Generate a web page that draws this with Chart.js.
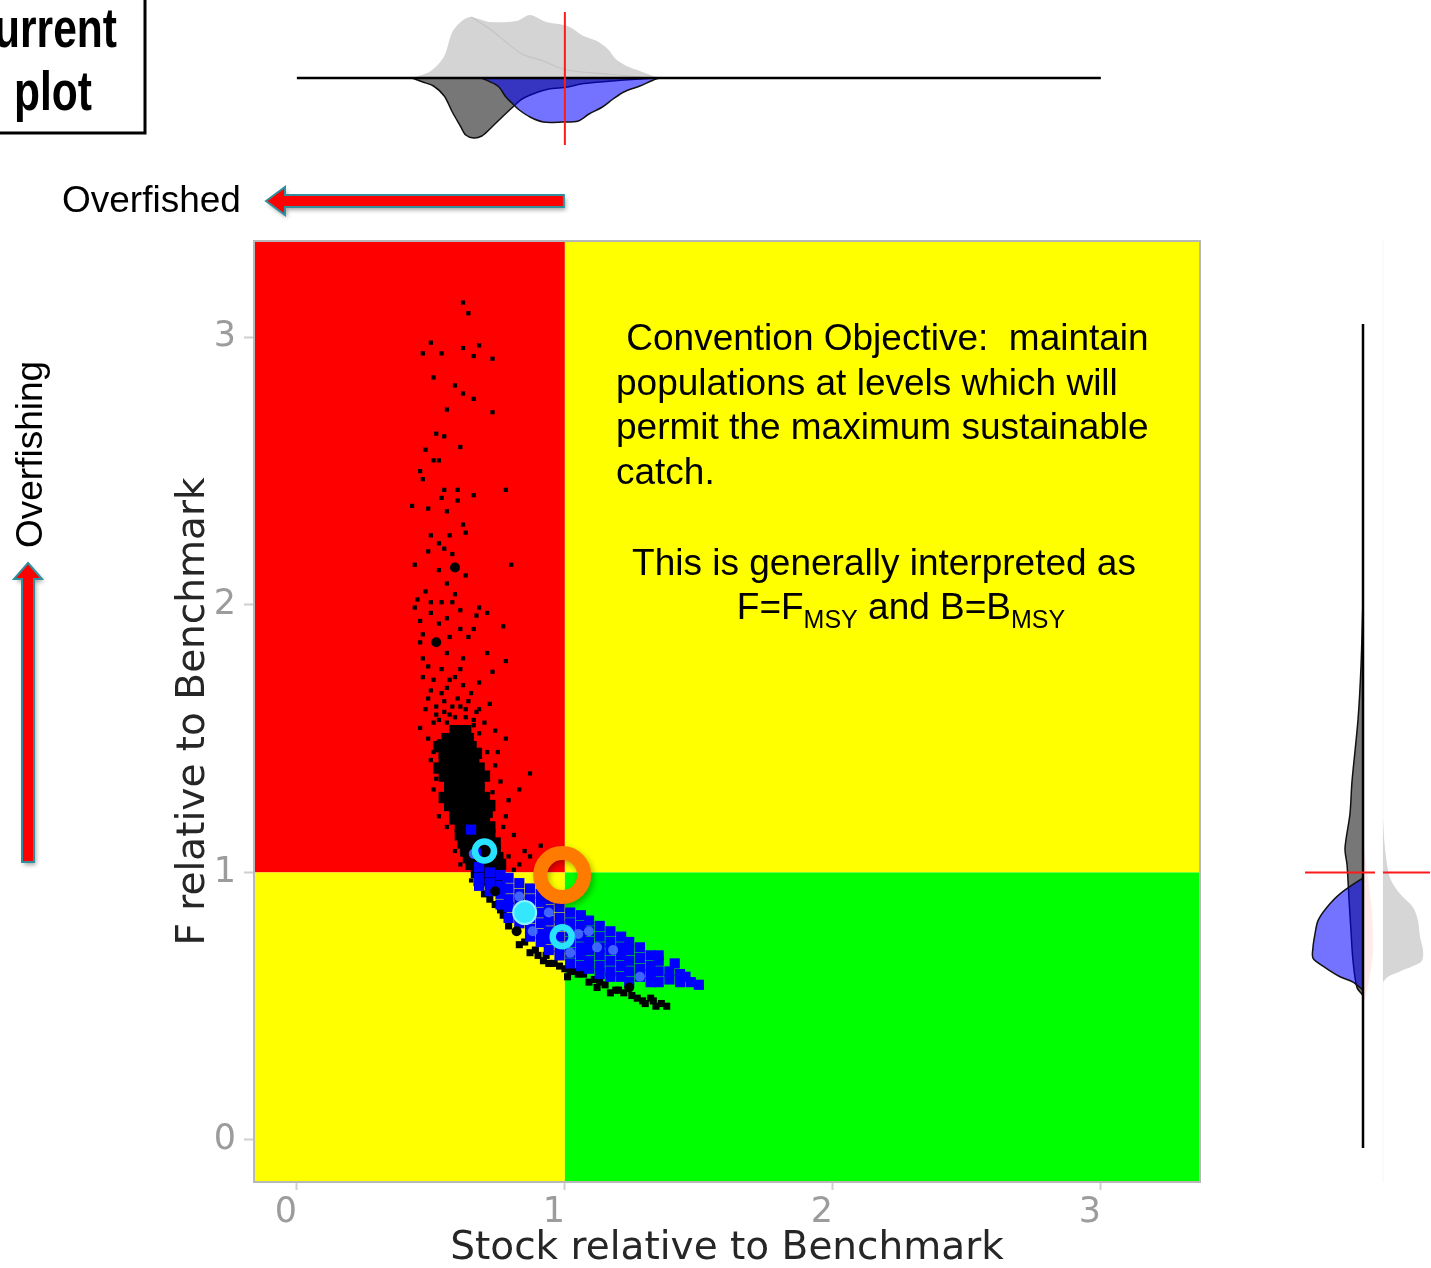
<!DOCTYPE html>
<html>
<head>
<meta charset="utf-8">
<script src="https://cdn.jsdelivr.net/npm/chart.js@4.4.1/dist/chart.umd.min.js"></script>
<style>
  body { margin: 0; background: #fff; }
  #wrap { position: relative; width: 1431px; height: 1268px; overflow: hidden; }
  canvas { position: absolute; }
</style>
</head>
<body>
<div id="wrap">
  <canvas id="kobe" width="1431" height="1268" style="left:0;top:0"></canvas>
  <canvas id="topDens" width="946" height="140" style="left:254px;top:8px"></canvas>
  <canvas id="rightDens" width="141" height="941" style="left:1290px;top:241px"></canvas>
</div>
<script>
// axis limits, ticks and reference point (stock and F relative to benchmark)
const stockLim = [-0.16, 3.37];
const fLim = [-0.157, 3.36];
const tickVals = [0, 1, 2, 3];
const refStock = 1;
const refF = 1;

// historical draws (black)
const histPts = [
  [0.62,3.13],[0.64,3.09],[0.50,2.98],[0.47,2.94],[0.54,2.94],[0.62,2.96],[0.68,2.97],[0.66,2.93],[0.73,2.92],
  [0.51,2.85],[0.59,2.82],[0.62,2.79],[0.66,2.77],[0.56,2.73],[0.73,2.72],[0.52,2.64],[0.55,2.63],[0.61,2.59],
  [0.48,2.58],[0.51,2.54],[0.53,2.54],[0.46,2.50],[0.47,2.47],[0.55,2.43],[0.60,2.43],[0.66,2.41],[0.78,2.43],
  [0.60,2.39],[0.54,2.40],[0.43,2.37],[0.49,2.36],[0.56,2.35],[0.62,2.30],[0.63,2.27],[0.50,2.26],[0.57,2.26],
  [0.53,2.23],[0.49,2.20],[0.55,2.21],[0.58,2.19],[0.44,2.15],[0.80,2.15],[0.53,2.13],[0.63,2.11],[0.56,2.08],
  [0.48,2.05],[0.59,2.04],[0.45,2.02],[0.50,2.01],[0.54,2.01],[0.58,2.01],[0.68,1.99],[0.44,1.99],[0.50,1.97],
  [0.61,1.98],[0.71,1.97],[0.56,1.95],[0.46,1.94],[0.53,1.93],[0.67,1.96],[0.77,1.92],[0.61,1.91],[0.66,1.91],
  [0.47,1.89],[0.57,1.88],[0.64,1.88],[0.46,1.86],[0.71,1.82],[0.78,1.79],[0.47,1.80],[0.56,1.82],[0.62,1.80],
  [0.49,1.77],[0.54,1.76],[0.61,1.76],[0.68,1.71],[0.73,1.75],[0.47,1.73],[0.51,1.72],[0.57,1.72],[0.65,1.67],
  [0.49,1.65],[0.54,1.67],[0.60,1.65],[0.72,1.63],[0.52,1.62],[0.58,1.62],[0.63,1.61],[0.68,1.61],[0.74,1.53],
  [0.78,1.50],[0.46,1.54],[0.51,1.56],[0.56,1.56],[0.61,1.54],[0.66,1.57],[0.68,1.52],[0.53,1.49],[0.58,1.48],
  [0.62,1.49],[0.51,1.45],[0.56,1.45],[0.61,1.43],[0.66,1.46],[0.71,1.45],[0.75,1.45],[0.87,1.37],[0.54,1.38],
  [0.60,1.38],[0.65,1.39],[0.69,1.37],[0.50,1.42],[0.76,1.34],[0.79,1.27],[0.78,1.21],[0.83,1.31],[0.51,1.31],
  [0.53,1.21],[0.81,1.14],[0.85,1.08],[0.87,1.06],[0.81,1.01],[0.59,1.08],[0.61,1.03],[0.65,0.97],[0.91,1.10],
  [0.49,1.50],[0.52,1.35],[0.74,1.40],[0.77,1.17],[0.56,1.17],[0.79,1.06],[0.83,1.03],[0.73,1.30],
  [0.52,1.59],[0.55,1.60],[0.59,1.58],[0.63,1.58],[0.67,1.60],[0.50,1.68],[0.56,1.69],[0.62,1.70],[0.59,1.73],
  [0.53,1.57],[0.57,1.59],[0.64,1.64],[0.70,1.56],[0.48,1.61],[0.55,1.64],[0.61,1.62],[0.66,1.55]
];
const histCore = [
  [0.59,1.53],[0.63,1.53],
  [0.56,1.50],[0.60,1.50],[0.64,1.50],
  [0.53,1.47],[0.57,1.47],[0.61,1.47],[0.65,1.47],
  [0.55,1.445],[0.59,1.445],[0.63,1.445],[0.67,1.445],
  [0.55,1.42],[0.59,1.42],[0.63,1.42],[0.66,1.42],
  [0.53,1.39],[0.57,1.39],[0.61,1.39],[0.65,1.39],[0.68,1.39],
  [0.55,1.36],[0.59,1.36],[0.63,1.36],[0.66,1.36],[0.70,1.36],
  [0.57,1.335],[0.61,1.335],[0.65,1.335],[0.68,1.335],
  [0.57,1.31],[0.61,1.31],[0.65,1.31],[0.68,1.31],
  [0.55,1.28],[0.59,1.28],[0.63,1.28],[0.67,1.28],[0.70,1.28],
  [0.57,1.25],[0.61,1.25],[0.65,1.25],[0.68,1.25],[0.72,1.25],
  [0.59,1.225],[0.63,1.225],[0.67,1.225],[0.71,1.225],
  [0.59,1.20],[0.63,1.20],[0.66,1.20],[0.70,1.20],
  [0.61,1.17],[0.65,1.17],[0.68,1.17],[0.72,1.17],
  [0.61,1.14],[0.65,1.14],[0.68,1.14],[0.72,1.14],
  [0.62,1.11],[0.66,1.11],[0.70,1.11],[0.74,1.11],
  [0.63,1.08],[0.66,1.08],[0.70,1.08],[0.74,1.08],
  [0.64,1.055],[0.68,1.055],[0.72,1.055],[0.75,1.055],
  [0.65,1.03],[0.68,1.03],[0.72,1.03],[0.76,1.03],
  [0.67,1.00],[0.70,1.00],[0.74,1.00],
  [0.68,0.97],[0.71,0.97],[0.75,0.97]
];
const histTail = [
  [0.68,0.95],[0.70,0.92],[0.74,0.88],[0.77,0.84],[0.79,0.80],[0.85,0.74],[0.89,0.71],[0.93,0.69],[0.96,0.66],
  [1.00,0.64],[1.04,0.63],[1.07,0.62],[1.11,0.60],[1.15,0.58],[1.19,0.56],[1.22,0.55],[1.27,0.53],[1.30,0.51],
  [1.34,0.50],[1.36,0.51],[1.32,0.53],[1.17,0.55],[1.09,0.59],[1.02,0.63],[0.94,0.66],[0.87,0.70],
  [0.90,0.69],[0.98,0.65],[1.05,0.62],[1.13,0.59],[1.20,0.56],[1.25,0.54],[1.29,0.52],[1.33,0.52],[1.38,0.50],
  [1.12,0.57],[1.01,0.61],[0.92,0.67],[0.83,0.73],[0.76,0.86],[0.72,0.90]
];
const histBig = [[0.59,2.14],[0.52,1.86],[0.74,0.93],[0.82,0.78],[1.24,0.57]];

// projected draws (blue)
const projPts = [
  [0.68,1.02],[0.68,0.98],[0.68,0.95],
  [0.72,1.00],[0.72,0.96],[0.72,0.93],
  [0.76,0.99],[0.76,0.95],[0.76,0.92],[0.76,0.88],
  [0.79,0.98],[0.79,0.94],[0.79,0.90],[0.79,0.87],[0.79,0.83],
  [0.83,0.96],[0.83,0.92],[0.83,0.89],[0.83,0.85],[0.83,0.81],
  [0.87,0.94],[0.87,0.90],[0.87,0.87],[0.87,0.83],[0.87,0.79],[0.87,0.76],
  [0.91,0.92],[0.91,0.89],[0.91,0.85],[0.91,0.81],[0.91,0.77],[0.91,0.74],
  [0.94,0.90],[0.94,0.86],[0.94,0.82],[0.94,0.78],[0.94,0.75],[0.94,0.71],
  [0.98,0.87],[0.98,0.83],[0.98,0.80],[0.98,0.76],[0.98,0.72],[0.98,0.69],
  [1.02,0.85],[1.02,0.81],[1.02,0.78],[1.02,0.74],[1.02,0.70],[1.02,0.66],
  [1.06,0.84],[1.06,0.80],[1.06,0.76],[1.06,0.72],[1.06,0.69],[1.06,0.65],
  [1.09,0.82],[1.09,0.78],[1.09,0.74],[1.09,0.71],[1.09,0.67],[1.09,0.64],
  [1.13,0.80],[1.13,0.76],[1.13,0.72],[1.13,0.69],[1.13,0.65],[1.13,0.62],
  [1.17,0.78],[1.17,0.74],[1.17,0.71],[1.17,0.67],[1.17,0.63],[1.17,0.61],
  [1.21,0.76],[1.21,0.72],[1.21,0.69],[1.21,0.65],[1.21,0.61],
  [1.24,0.74],[1.24,0.71],[1.24,0.67],[1.24,0.63],[1.24,0.59],
  [1.28,0.72],[1.28,0.68],[1.28,0.64],[1.28,0.61],
  [1.32,0.69],[1.32,0.65],[1.32,0.62],[1.32,0.59],
  [1.35,0.67],[1.35,0.63],[1.35,0.59],
  [1.39,0.63],[1.39,0.60],[1.43,0.62],[1.43,0.59],[1.47,0.59],
  [0.65,1.16],[0.67,1.07],[1.35,0.69],[1.41,0.66],[1.45,0.61],[1.50,0.58]
];
const projBig = [[0.83,0.91],[0.94,0.85],[0.88,0.78],[1.05,0.77],[1.09,0.78],[1.12,0.72],[1.18,0.71],[1.02,0.70],[1.28,0.61],[0.66,1.07]];

// highlighted years and current status
const cyanRing = [[0.70,1.08],[0.99,0.76]];
const cyanDot = [[0.85,0.85]];
const currentPt = [[0.99,0.99]];

// top margin: stock densities
const topLightX = [0.43,0.50,0.55,0.58,0.62,0.65,0.72,0.82,0.87,0.93,1.01,1.07,1.12,1.16,1.19,1.23,1.28,1.34,1.36];
const topLightY = [0,7,22,46,58,61,56,57,63,56,52,42,37,29,19,12,7,1,0];
const topInnerX = [0.65,0.72,0.78,0.84,0.92,0.97,1.03,1.16,1.28];
const topInnerY = [61,49,36,24,17,11,7,4,1];
const topDarkX = [0.43,0.47,0.51,0.55,0.58,0.61,0.63,0.66,0.69,0.72,0.77,0.81,0.84,0.90,0.94,1.01,1.06,1.13,1.22,1.34];
const topDarkY = [0,-4,-8,-18,-34,-48,-57,-60,-58,-51,-38,-28,-21,-14,-11,-9,-6,-4,-2,0];
const topBlueX = [0.69,0.75,0.78,0.81,0.83,0.87,0.92,0.99,1.05,1.09,1.14,1.18,1.22,1.28,1.34,1.36];
const topBlueY = [0,-8,-19,-27,-32,-39,-44,-44,-43,-36,-29,-21,-14,-8,-1,0];

// right margin: F densities
const rightDarkF = [2.02,1.77,1.57,1.34,1.22,1.09,1.03,0.97,0.90,0.78,0.67,0.57,0.54];
const rightDarkW = [0,-2,-5,-11,-13,-18,-16,-15,-14,-12,-10,-6,0];
const rightBlueF = [0.98,0.92,0.87,0.82,0.77,0.72,0.68,0.65,0.61,0.59,0.56];
const rightBlueW = [0,-23,-36,-45,-48,-50,-50,-40,-23,-10,0];
const rightLightF = [1.20,1.09,0.98,0.92,0.87,0.82,0.76,0.71,0.67,0.65,0.63,0.61,0.59];
const rightLightW = [0,2,7,17,30,35,37,40,39,30,17,5,0];
const rightPinkF = [1.12,1.01,0.85,0.71,0.64,0.56,0.50];
const rightPinkW = [0,4,9,10,8,4,0];

const pts = arr => arr.map(p => ({x: p[0], y: p[1]}));
const zip = (xs, ys) => xs.map((x, i) => ({x: x, y: ys[i]}));
const fontTick = {family: 'DejaVu Sans', size: 35};
const fontTitle = {family: 'DejaVu Sans', size: 39, lineHeight: 1};
const NOTE = '37px "Liberation Sans", Arial, sans-serif';

function arrow(ctx, p) {
  ctx.save();
  ctx.beginPath();
  p.forEach((q, i) => i ? ctx.lineTo(q[0], q[1]) : ctx.moveTo(q[0], q[1]));
  ctx.closePath();
  ctx.shadowColor = 'rgba(0,0,0,0.35)';
  ctx.shadowBlur = 4;
  ctx.shadowOffsetX = 2;
  ctx.shadowOffsetY = 3;
  ctx.fillStyle = '#ff0000';
  ctx.fill();
  ctx.shadowColor = 'transparent';
  ctx.lineWidth = 2;
  ctx.strokeStyle = '#2f8f9d';
  ctx.stroke();
  ctx.restore();
}

const zones = {
  id: 'zones',
  beforeDatasetsDraw(chart) {
    const {ctx, chartArea: a, scales: {x, y}} = chart;
    const xr = x.getPixelForValue(refStock), yr = y.getPixelForValue(refF);
    ctx.save();
    ctx.fillStyle = '#ff0000';
    ctx.fillRect(a.left, a.top, xr - a.left, yr - a.top);
    ctx.fillStyle = '#ffff00';
    ctx.fillRect(xr, a.top, a.right - xr, yr - a.top);
    ctx.fillRect(a.left, yr, xr - a.left, a.bottom - yr);
    ctx.fillStyle = '#00ff00';
    ctx.fillRect(xr, yr, a.right - xr, a.bottom - yr);
    ctx.restore();
  },
  beforeDatasetDraw(chart, args) {
    if (chart.data.datasets[args.index].label === 'current') {
      const ctx = chart.ctx;
      ctx.save();
      ctx.shadowColor = 'rgba(0,0,0,0.3)';
      ctx.shadowBlur = 6;
      ctx.shadowOffsetX = 2;
      ctx.shadowOffsetY = 3;
    }
  },
  afterDatasetDraw(chart, args) {
    if (chart.data.datasets[args.index].label === 'current') chart.ctx.restore();
  },
  afterDraw(chart) {
    const {ctx, chartArea: a, scales: {x, y}} = chart;
    ctx.save();
    ctx.strokeStyle = '#b8b8b8';
    ctx.lineWidth = 2;
    ctx.strokeRect(a.left, a.top, a.right - a.left, a.bottom - a.top);

    // "Current plot" box, cut by the left edge
    ctx.strokeStyle = '#000';
    ctx.lineWidth = 3;
    ctx.strokeRect(-60, -60, 205, 193);
    ctx.save();
    ctx.scale(0.76, 1);
    ctx.fillStyle = '#000';
    ctx.font = 'bold 56px "Liberation Sans", Arial, sans-serif';
    ctx.textAlign = 'right';
    ctx.fillText('Current', 117 / 0.76, 47);
    ctx.textAlign = 'center';
    ctx.fillText('plot', 53 / 0.76, 110);
    ctx.restore();

    // arrows and labels outside the plot
    ctx.fillStyle = '#000';
    ctx.font = NOTE;
    ctx.textAlign = 'left';
    ctx.textBaseline = 'alphabetic';
    ctx.fillText('Overfished', 62, 212);
    const xr = x.getPixelForValue(refStock);
    arrow(ctx, [[266,201],[285,187],[285,195],[xr - 1,195],[xr - 1,207],[285,207],[285,215]]);
    ctx.save();
    ctx.translate(42, 548);
    ctx.rotate(-Math.PI / 2);
    ctx.fillText('Overfishing', 0, 0);
    ctx.restore();
    arrow(ctx, [[28,563],[42,579],[34,579],[34,862],[22,862],[22,579],[14,579]]);

    // text inside the plot
    const lines = [' Convention Objective:  maintain', 'populations at levels which will',
      'permit the maximum sustainable', 'catch.'];
    lines.forEach((t, i) => ctx.fillText(t, 616, 350 + i * 44.7));
    ctx.textAlign = 'center';
    ctx.fillText('This is generally interpreted as', 884, 575);
    const parts = [['F=F', 0], ['MSY', 1], [' and B=B', 0], ['MSY', 1]];
    const fontOf = s => s ? '25px "Liberation Sans", Arial, sans-serif' : NOTE;
    let total = 0;
    parts.forEach(p => { ctx.font = fontOf(p[1]); total += ctx.measureText(p[0]).width; });
    let cx = 901 - total / 2;
    ctx.textAlign = 'left';
    parts.forEach(p => {
      ctx.font = fontOf(p[1]);
      ctx.fillText(p[0], cx, p[1] ? 628 : 619);
      cx += ctx.measureText(p[0]).width;
    });
    ctx.restore();
  }
};

const onlyTicks = s => { s.ticks = tickVals.map(v => ({value: v})); };

new Chart(document.getElementById('kobe'), {
  type: 'scatter',
  data: {
    datasets: [
      {label: 'current', data: pts(currentPt), pointStyle: 'circle', pointRadius: 22, borderWidth: 14,
        borderColor: '#ff7a00', backgroundColor: 'transparent', order: 0},
      {label: 'ring', data: pts(cyanRing), pointStyle: 'circle', pointRadius: 9.5, borderWidth: 6.5,
        borderColor: '#27e3ff', backgroundColor: 'transparent', order: 1},
      {label: 'dot', data: pts(cyanDot), pointStyle: 'circle', pointRadius: 11.5, borderWidth: 2,
        borderColor: '#8cf3ff', backgroundColor: '#35e6ff', order: 2},
      {label: 'histBig', data: pts(histBig), pointStyle: 'circle', pointRadius: 5, borderWidth: 0,
        backgroundColor: '#000', order: 3},
      {label: 'projBig', data: pts(projBig), pointStyle: 'circle', pointRadius: 5, borderWidth: 0,
        backgroundColor: 'rgba(70,110,255,0.9)', order: 4},
      {label: 'proj', data: pts(projPts), pointStyle: 'rect', pointRadius: 7.2, borderWidth: 0,
        backgroundColor: '#0000ff', order: 5},
      {label: 'tail', data: pts(histTail), pointStyle: 'rect', pointRadius: 5, borderWidth: 0,
        backgroundColor: '#000', order: 6},
      {label: 'core', data: pts(histCore), pointStyle: 'rect', pointRadius: 8, borderWidth: 0,
        backgroundColor: '#000', order: 7},
      {label: 'hist', data: pts(histPts), pointStyle: 'rect', pointRadius: 3, borderWidth: 0,
        backgroundColor: '#000', order: 8}
    ]
  },
  options: {
    responsive: false,
    animation: false,
    events: [],
    layout: {padding: {left: 0, top: 241, right: 231, bottom: 0}},
    plugins: {legend: {display: false}, tooltip: {enabled: false}},
    scales: {
      x: {
        type: 'linear', min: stockLim[0], max: stockLim[1],
        afterBuildTicks: onlyTicks,
        afterFit: s => { s.height = 86; },
        border: {display: false},
        grid: {drawOnChartArea: false, drawTicks: true, tickLength: 8, tickColor: '#cfcfcf', tickWidth: 2},
        ticks: {color: '#9c9c9c', font: fontTick, padding: 2, labelOffset: -11},
        title: {display: true, text: 'Stock relative to Benchmark', color: '#262626', font: fontTitle,
          padding: {top: 0, bottom: 0}}
      },
      y: {
        type: 'linear', min: fLim[0], max: fLim[1],
        afterBuildTicks: onlyTicks,
        afterFit: s => { s.width = 254; },
        border: {display: false},
        grid: {drawOnChartArea: false, drawTicks: true, tickLength: 10, tickColor: '#cfcfcf', tickWidth: 2},
        ticks: {color: '#9c9c9c', font: fontTick, padding: 8},
        title: {display: true, text: 'F relative to Benchmark', color: '#262626', font: fontTitle,
          padding: {top: 174, bottom: 0}}
      }
    }
  },
  plugins: [zones]
});

const bare = (xmin, xmax, ymin, ymax) => ({
  responsive: false,
  animation: false,
  events: [],
  layout: {padding: 0},
  plugins: {legend: {display: false}, tooltip: {enabled: false}},
  elements: {point: {radius: 0}},
  scales: {
    x: {type: 'linear', display: false, min: xmin, max: xmax},
    y: {type: 'linear', display: false, min: ymin, max: ymax}
  }
});

new Chart(document.getElementById('topDens'), {
  type: 'line',
  data: {
    datasets: [
      {data: zip(topLightX, topLightY), fill: 'origin', backgroundColor: '#d4d4d4', borderWidth: 0, tension: 0.3, order: 6},
      {data: zip(topInnerX, topInnerY), fill: false, borderColor: '#c4c4c4', borderWidth: 1.2, tension: 0.3, order: 5},
      {data: zip(topDarkX, topDarkY), fill: 'origin', backgroundColor: '#777777', borderColor: '#111', borderWidth: 1.5, tension: 0.3, order: 4},
      {data: zip(topBlueX, topBlueY), fill: 'origin', backgroundColor: 'rgba(0,0,255,0.55)', borderColor: '#111', borderWidth: 1.5, tension: 0.3, order: 3},
      {data: [{x: tickVals[0], y: 0}, {x: tickVals[3], y: 0}], borderColor: '#000', borderWidth: 2.5, order: 2},
      {data: [{x: refStock, y: -67}, {x: refStock, y: 66}], borderColor: '#ff1a1a', borderWidth: 2, order: 1}
    ]
  },
  options: bare(stockLim[0], stockLim[1], -70, 70)
});

const grayShift = 20;
new Chart(document.getElementById('rightDens'), {
  type: 'line',
  data: {
    datasets: [
      {data: [{x: grayShift, y: fLim[0]}, {x: grayShift, y: fLim[1]}], borderColor: '#f6f6f6', borderWidth: 1, order: 9},
      {data: zip(rightLightW.map(w => w + grayShift), rightLightF), fill: 'shape', backgroundColor: '#d6d6d6', borderWidth: 0, tension: 0.3, order: 8},
      {data: zip(rightPinkW, rightPinkF), fill: 'shape', backgroundColor: 'rgba(255,120,120,0.15)', borderWidth: 0, tension: 0.3, order: 7},
      {data: zip(rightDarkW, rightDarkF), fill: 'shape', backgroundColor: '#777777', borderColor: '#111', borderWidth: 1.5, tension: 0.3, order: 6},
      {data: zip(rightBlueW, rightBlueF), fill: 'shape', backgroundColor: 'rgba(0,0,255,0.55)', borderColor: '#111', borderWidth: 1.5, tension: 0.3, order: 5},
      {data: [{x: 0, y: 3.05}, {x: 0, y: -0.03}], borderColor: '#000', borderWidth: 2.5, order: 4},
      {data: [{x: -58, y: refF}, {x: 12, y: refF}], borderColor: '#ff1a1a', borderWidth: 2, order: 3},
      {data: [{x: grayShift, y: refF}, {x: 67, y: refF}], borderColor: '#ff1a1a', borderWidth: 2, order: 2}
    ]
  },
  options: bare(-73, 68, fLim[0], fLim[1])
});
</script>
</body>
</html>
